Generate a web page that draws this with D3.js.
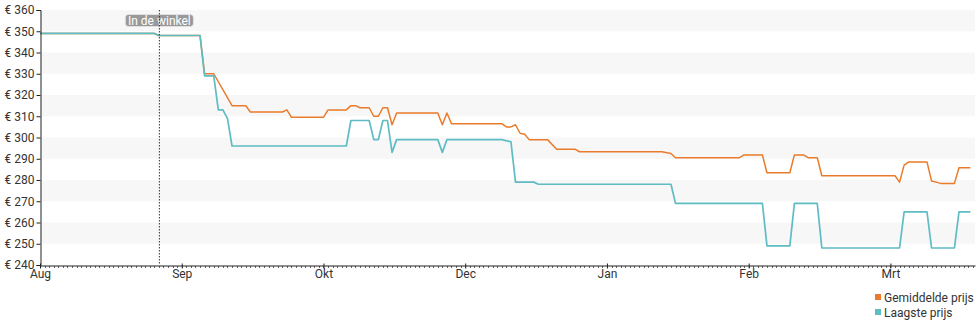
<!DOCTYPE html>
<html>
<head>
<meta charset="utf-8">
<script src="https://cdn.jsdelivr.net/npm/d3@7/dist/d3.min.js"></script>
<style>
  html, body { margin: 0; padding: 0; background: #fff; }
  svg { display: block; font-family: Roboto, "Noto Sans", sans-serif; }
</style>
</head>
<body>
<svg id="chart" width="980" height="325"></svg>
<script>
// Day index (0 = start of Aug) and price in euro
const lowestPrice = [
  [0,349],[25,349],[26,348],[35,348],[36,329],[38,329],[39,313],[40,313],[41,309],[42,296],
  [67,296],[68,308],[72,308],[73,299],[74,299],[75,308],[76,308],[77,293],[78,299],[87,299],
  [88,293],[89,299],[101,299],[103,298],[104,279],[108,279],[109,278],[138,278],[139,269],
  [158,269],[159,249],[164,249],[165,269],[170,269],[171,248],[188,248],[189,265],[194,265],
  [195,248],[200,248],[201,265],[203.5,265]
];
const averagePrice = [
  [0,349],[25,349],[26,348],[35,348],[36,330],[38,330],[42,315],[45,315],[46,312],[53,312],
  [54,313],[55,309.5],[62,309.5],[63,313],[67,313],[68,315],[69,315],[70,314],[72,314],
  [73,310],[74,310],[75,314],[76,314],[77,306],[78,311.5],[87,311.5],[88,306],[89,311.5],
  [90,306.5],[101,306.5],[102,305],[103,305],[104,306],[105,302],[106,301.5],[107,299],
  [111,299],[113,294.5],[117,294.5],[118,293.3],[136,293.3],[138,292.5],[139,290.5],
  [153,290.5],[154,291.8],[158,291.8],[159,283.4],[164,283.4],[165,291.8],[167,291.8],
  [168,290.5],[170,290.5],[171,282],[187,282],[188,279],[189,287],[190,288.5],[194,288.5],
  [195,279.5],[196,279],[197,278.4],[200,278.4],[201,285.8],[203.5,285.8]
];
const monthTicks = [0, 31, 62, 93, 124, 155, 186];
const monthLabels = ["Aug", "Sep", "Okt", "Dec", "Jan", "Feb", "Mrt"];
const priceTicks = [240, 250, 260, 270, 280, 290, 300, 310, 320, 330, 340, 350, 360];
const storeDay = 26;
const storeLabel = "In de winkel";
const seriesNames = ["Gemiddelde prijs", "Laagste prijs"];
const seriesColors = ["#ea7b2a", "#5fbcc4"];

const svg = d3.select("#chart");
const plotLeft = 40, plotRight = 975, plotTop = 10, plotBottom = 265;

const x = d3.scaleLinear().domain([0, 204.5]).range([plotLeft, plotRight]);
const y = d3.scaleLinear().domain([240, 360]).range([plotBottom, plotTop]);

// alternating horizontal bands
const bands = priceTicks.slice(0, -1).filter(v => ((v - 240) / 10) % 2 === 1);
svg.append("g").selectAll("rect").data(bands).join("rect")
  .attr("x", plotLeft).attr("width", plotRight - plotLeft)
  .attr("y", d => y(d + 10)).attr("height", d => y(d) - y(d + 10))
  .attr("fill", "#f7f7f7");

// price lines (lowest drawn on top)
const line = d3.line().x(d => x(d[0])).y(d => y(d[1]));
[averagePrice, lowestPrice].forEach((s, i) => {
  svg.append("path").datum(s)
    .attr("d", line)
    .attr("fill", "none")
    .attr("stroke", seriesColors[i])
    .attr("stroke-width", i === 1 ? 1.7 : 1.5)
    .attr("stroke-linejoin", "round");
});

// store label
const lbl = svg.append("g").attr("transform", `translate(${x(storeDay) + 0.5},${plotTop + 10.5})`);
lbl.append("rect")
  .attr("x", -34).attr("y", -6).attr("width", 68).attr("height", 12)
  .attr("rx", 3).attr("fill", "#999").attr("stroke", "#e6e6e6").attr("stroke-width", 0.8);
lbl.append("text")
  .attr("text-anchor", "middle").attr("y", 4.5)
  .attr("font-size", 12).attr("fill", "#fff")
  .text(storeLabel);

// store-availability marker
svg.append("line")
  .attr("x1", x(storeDay) + 0.5).attr("x2", x(storeDay) + 0.5)
  .attr("y1", plotTop).attr("y2", plotBottom)
  .attr("stroke", "#333").attr("stroke-width", 1)
  .attr("stroke-dasharray", "1.5,1.5");

// y axis
const yAxis = svg.append("g")
  .attr("transform", `translate(${plotLeft + 0.5},0)`)
  .call(d3.axisLeft(y).tickValues(priceTicks).tickFormat(d => "€ " + d).tickSize(4).tickPadding(2));
yAxis.select(".domain").attr("stroke", "#222");
yAxis.selectAll(".tick line").attr("stroke", "#222");
yAxis.selectAll("text").attr("font-size", 12).attr("fill", "#333").attr("font-family", "Roboto, sans-serif");

// x axis: daily minor ticks
const days = d3.range(0, 205);
svg.append("g").selectAll("line").data(days).join("line")
  .attr("x1", d => Math.round(x(d)) + 0.5).attr("x2", d => Math.round(x(d)) + 0.5)
  .attr("y1", plotBottom + 1).attr("y2", plotBottom + 3)
  .attr("stroke", "#666").attr("stroke-width", 1);

const xAxis = svg.append("g")
  .attr("transform", `translate(0,${plotBottom + 0.5})`)
  .call(d3.axisBottom(x).tickValues(monthTicks).tickFormat((d, i) => monthLabels[i]).tickSize(3).tickPadding(1).tickSizeOuter(0));
xAxis.select(".domain").attr("stroke", "#222");
xAxis.selectAll(".tick line").attr("stroke", "#222").attr("y1", -2);
xAxis.selectAll("text").attr("font-size", 12).attr("fill", "#333").attr("font-family", "Roboto, sans-serif");

// legend
const legend = svg.append("g").attr("transform", "translate(875,297)");
seriesNames.forEach((name, i) => {
  const g = legend.append("g").attr("transform", `translate(0,${i * 15})`);
  g.append("rect").attr("x", 0).attr("y", -3).attr("width", 6).attr("height", 6).attr("fill", seriesColors[i]);
  g.append("text").attr("x", 9).attr("y", 4.5).attr("font-size", 12).attr("fill", "#333").text(name);
});
</script>
</body>
</html>
